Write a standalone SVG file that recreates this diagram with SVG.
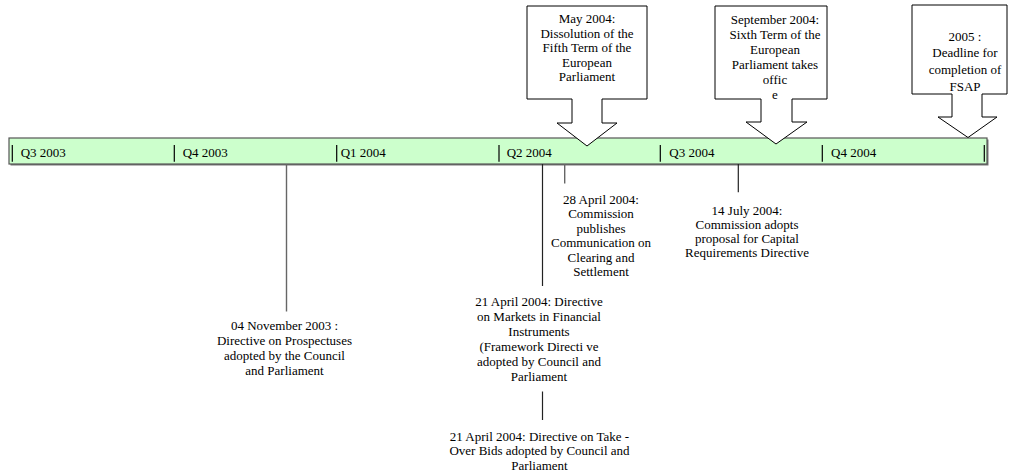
<svg xmlns="http://www.w3.org/2000/svg" width="1015" height="474" viewBox="0 0 1015 474">
<style>
text{font-family:"Liberation Serif","Times New Roman",serif;font-size:13px;fill:#000}
.c{text-anchor:middle}
.tick{stroke:#000;stroke-width:1.2}
.callout{fill:#fff;stroke:#000;stroke-width:1}
.lnk{stroke:#222;stroke-width:1.2;fill:none}
.lnkg{stroke:#666;stroke-width:1.4;fill:none}
</style>
<rect width="1015" height="474" fill="#fff"/>
<g id="timeline">
<rect x="10.5" y="139.5" width="978" height="26" fill="#777"/>
<rect x="9" y="138" width="978" height="26" fill="#ccffcc" stroke="#555" stroke-width="1.2"/>
<line class="tick" x1="12.3" y1="145" x2="12.3" y2="161.7"/>
<line class="tick" x1="174.3" y1="145" x2="174.3" y2="161.7"/>
<line class="tick" x1="336.7" y1="145" x2="336.7" y2="161.7"/>
<line class="tick" x1="499" y1="145" x2="499" y2="161.7"/>
<line class="tick" x1="660.3" y1="145" x2="660.3" y2="161.7"/>
<line class="tick" x1="822.3" y1="145" x2="822.3" y2="161.7"/>
<line class="tick" x1="984.3" y1="145" x2="984.3" y2="161.7"/>
<text x="20.7" y="157.3">Q3 2003</text>
<text x="182.7" y="157.3">Q4 2003</text>
<text x="340.7" y="157.3">Q1 2004</text>
<text x="506.7" y="157.3">Q2 2004</text>
<text x="669.3" y="157.3">Q3 2004</text>
<text x="831" y="157.3">Q4 2004</text>
</g>
<g id="connectors">
<line class="lnkg" x1="286.5" y1="164" x2="286.5" y2="311.5"/>
<line class="lnk" x1="542.5" y1="164" x2="542.5" y2="286"/>
<line class="lnk" x1="542.5" y1="391.5" x2="542.5" y2="420"/>
<line class="lnkg" x1="564.7" y1="164" x2="564.7" y2="183.5"/>
<line class="lnk" x1="738.3" y1="164" x2="738.3" y2="192.3"/>
</g>
<g id="callout-may2004">
<path class="callout" d="M527,6 H647 V99 H602 V123 H617 L587,146 L557,123 H572 V99 H527 Z"/>
<text class="c" x="587" y="23">May 2004:</text>
<text class="c" x="587" y="37.5">Dissolution of the</text>
<text class="c" x="587" y="52">Fifth Term of the</text>
<text class="c" x="587" y="66.5">European</text>
<text class="c" x="587" y="81">Parliament</text>
</g>
<g id="callout-sep2004">
<path class="callout" d="M715,6 H827 V99 H792 V122 H807 L776,144 L746,122 H761 V99 H715 Z"/>
<text class="c" x="775" y="24">September 2004:</text>
<text class="c" x="775" y="39">Sixth Term of the</text>
<text class="c" x="775" y="54">European</text>
<text class="c" x="775" y="69">Parliament takes</text>
<text class="c" x="775" y="84">offic</text>
<text class="c" x="775" y="99">e</text>
</g>
<g id="callout-2005">
<path class="callout" d="M912,5 H1007 V94 H982 V117 H997 L968,137.5 L938,117 H952 V94 H912 Z"/>
<text class="c" x="965" y="40.5">2005 :</text>
<text class="c" x="965" y="57">Deadline for</text>
<text class="c" x="965" y="73.5">completion of</text>
<text class="c" x="965" y="91">FSAP</text>
</g>
<g id="event-nov2003">
<text class="c" x="284.5" y="330">04 November 2003 :</text>
<text class="c" x="284.5" y="345">Directive on Prospectuses</text>
<text class="c" x="284.5" y="360">adopted by the Council</text>
<text class="c" x="284.5" y="375">and Parliament</text>
</g>
<g id="event-apr28-2004">
<text class="c" x="601" y="203.5">28 April 2004:</text>
<text class="c" x="601" y="218">Commission</text>
<text class="c" x="601" y="232.5">publishes</text>
<text class="c" x="601" y="247">Communication on</text>
<text class="c" x="601" y="261.5">Clearing and</text>
<text class="c" x="601" y="276">Settlement</text>
</g>
<g id="event-jul2004">
<text class="c" x="747" y="214.5">14 July 2004:</text>
<text class="c" x="747" y="228.5">Commission adopts</text>
<text class="c" x="747" y="243">proposal for Capital</text>
<text class="c" x="747" y="257">Requirements Directive</text>
</g>
<g id="event-apr21-mifid">
<text class="c" x="539" y="306">21 April 2004: Directive</text>
<text class="c" x="539" y="321">on Markets in Financial</text>
<text class="c" x="539" y="336">Instruments</text>
<text class="c" x="539" y="351">(Framework Directi ve</text>
<text class="c" x="539" y="366">adopted by Council and</text>
<text class="c" x="539" y="381">Parliament</text>
</g>
<g id="event-apr21-takeover">
<text class="c" x="539.5" y="440.5">21 April 2004: Directive on Take -</text>
<text class="c" x="539.5" y="455">Over Bids adopted by Council and</text>
<text class="c" x="539.5" y="469.5">Parliament</text>
</g>
</svg>
